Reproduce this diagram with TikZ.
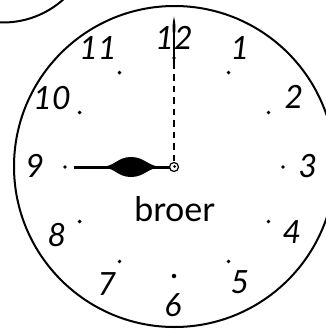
\documentclass[tikz,border=0pt]{standalone}
\usepackage{fontspec}
\setmainfont{Lato}
\usetikzlibrary{calc}
\begin{document}
\begin{tikzpicture}[x=1pt,y=-1pt,
  rim/.style={line width=2pt,draw=black},
  tick/.style={circle,fill=black,inner sep=0pt,minimum size=3.8pt},
  numeral/.style={inner sep=0pt,font=\fontsize{32}{32}\selectfont\itshape},
  word/.style={inner sep=0pt,anchor=base,font=\fontsize{34}{34}\selectfont},
  hub/.style={circle,draw=black,line width=1.2pt,fill=white,inner sep=0pt,minimum size=9pt}]
\useasboundingbox (0,0) rectangle (326,329);
% neighbouring bubble
\draw[rim] (3,-68) circle[radius=90.5];
% clock face
\draw[rim] (174.5,166.5) circle[radius=160.5];
\coordinate (c) at (174,167);
% minute ticks
\foreach \k in {0,...,11}{
  \node[tick] (t\k) at ($(c)+({90-30*\k}:109)$) {};
}
% numerals
\node[numeral] (n12) at (174,38) {12};
\node[numeral] (n1) at (240,48) {1};
\node[numeral] (n2) at (294,97) {2};
\node[numeral] (n3) at (308,166) {3};
\node[numeral] (n4) at (292,232) {4};
\node[numeral] (n5) at (240,282) {5};
\node[numeral] (n6) at (173,305) {6};
\node[numeral] (n7) at (107,284) {7};
\node[numeral] (n8) at (57,235) {8};
\node[numeral] (n9) at (35,166) {9};
\node[numeral] (n10) at (52,98) {10};
\node[numeral] (n11) at (98,48) {11};
\node[word] (w) at (174.5,221) {broer};
% minute hand (to 12)
\coordinate (mtip) at (174,16.5);
\coordinate (mmid) at (174,62);
\draw[line width=2.4pt,dash pattern=on 6.5pt off 5pt] (c) ++(0,-6) -- (mmid);
\draw[line width=2pt] (mmid) -- (174,34);
\fill (mtip) .. controls (175.5,24) and (176.5,29) .. (174,37)
      .. controls (171.5,29) and (172.5,24) .. (mtip) -- cycle;
\node[tick,minimum size=4.5pt] at (t0) {};
% hour hand (to 9)
\coordinate (htip) at (74,167);
\draw[line width=3pt] (htip) -- (c);
\fill (100,167) .. controls (115,167) and (117,157) .. (131,157)
      .. controls (145,157) and (148,167) .. (163,167)
      .. controls (148,167) and (145,177) .. (131,177)
      .. controls (117,177) and (115,167) .. (100,167) -- cycle;
\node[hub] (h) at (c) {};
\fill ($(c)+(0.5,-0.5)$) circle[radius=1.5pt];
\end{tikzpicture}
\end{document}
